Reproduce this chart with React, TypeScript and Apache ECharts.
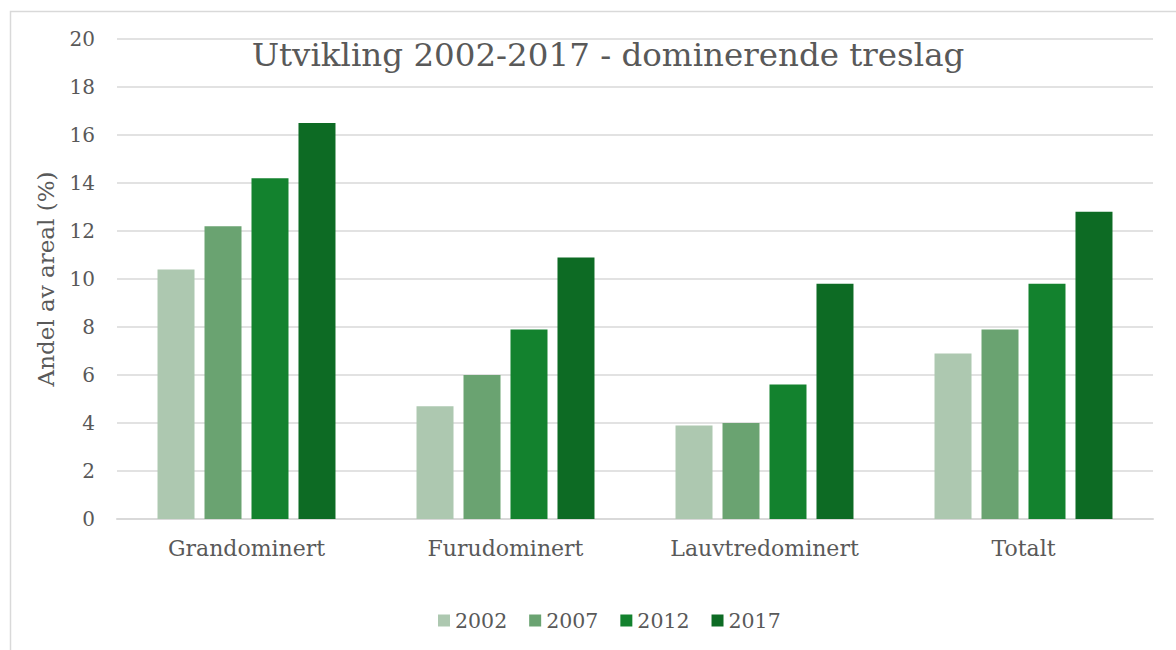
import React, { useEffect, useRef } from "react";
import * as echarts from "echarts";

const categories = ["Grandominert", "Furudominert", "Lauvtredominert", "Totalt"];
const years = ["2002", "2007", "2012", "2017"];
const values2002 = [10.4, 4.7, 3.9, 6.9];
const values2007 = [12.2, 6.0, 4.0, 7.9];
const values2012 = [14.2, 7.9, 5.6, 9.8];
const values2017 = [16.5, 10.9, 9.8, 12.8];
const colors = ["#adc8b0", "#6aa371", "#13822e", "#0d6b24"];

const FONT = "'DejaVu Serif', Georgia, serif";
const TXT = "#595959";

export default function App() {
  const ref = useRef<HTMLDivElement>(null);
  useEffect(() => {
    if (!ref.current) return;
    const chart = echarts.init(ref.current, undefined, { renderer: "svg" });
    const seriesData = [values2002, values2007, values2012, values2017];
    chart.setOption({
      animation: false,
      backgroundColor: "#ffffff",
      textStyle: { fontFamily: FONT, color: TXT },
      title: {
        text: "Utvikling 2002-2017 - dominerende treslag",
        left: 603,
        textAlign: "center",
        top: 33,
        textStyle: { fontFamily: FONT, fontSize: 32.5, fontWeight: "normal", color: TXT },
      },
      graphic: [
        {
          type: "rect",
          shape: { x: 10.5, y: 11.5, width: 1300, height: 800 },
          style: { fill: "none", stroke: "#d9d9d9", lineWidth: 1.5 },
          silent: true,
          z: -10,
        },
      ],
      legend: {
        data: years,
        bottom: 14,
        left: 433,
        itemWidth: 12,
        itemHeight: 12,
        itemGap: 22,
        icon: "rect",
        textStyle: { fontFamily: FONT, fontSize: 20.5, color: TXT },
      },
      grid: { left: 117, right: 23, top: 39, bottom: 131 },
      xAxis: {
        type: "category",
        data: categories,
        axisLine: { lineStyle: { color: "#d9d9d9", width: 2 } },
        axisTick: { show: false },
        axisLabel: { fontFamily: FONT, fontSize: 22, color: TXT, margin: 18 },
      },
      yAxis: {
        type: "value",
        min: 0,
        max: 20,
        interval: 2,
        name: "Andel av areal (%)",
        nameLocation: "middle",
        nameGap: 60,
        nameTextStyle: { fontFamily: FONT, fontSize: 23, color: TXT },
        axisLine: { show: false },
        axisTick: { show: false },
        axisLabel: { fontFamily: FONT, fontSize: 20, color: TXT, margin: 22 },
        splitLine: { lineStyle: { color: "#d9d9d9", width: 1.5 } },
      },
      series: years.map((y, i) => ({
        name: y,
        type: "bar",
        data: seriesData[i],
        barWidth: 37,
        barGap: "27%",
        itemStyle: { color: colors[i] },
      })),
    });
    return () => chart.dispose();
  }, []);
  return (
    <div
      ref={ref}
      style={{ position: "absolute", left: 0, top: 0, width: 1176, height: 650 }}
    />
  );
}
